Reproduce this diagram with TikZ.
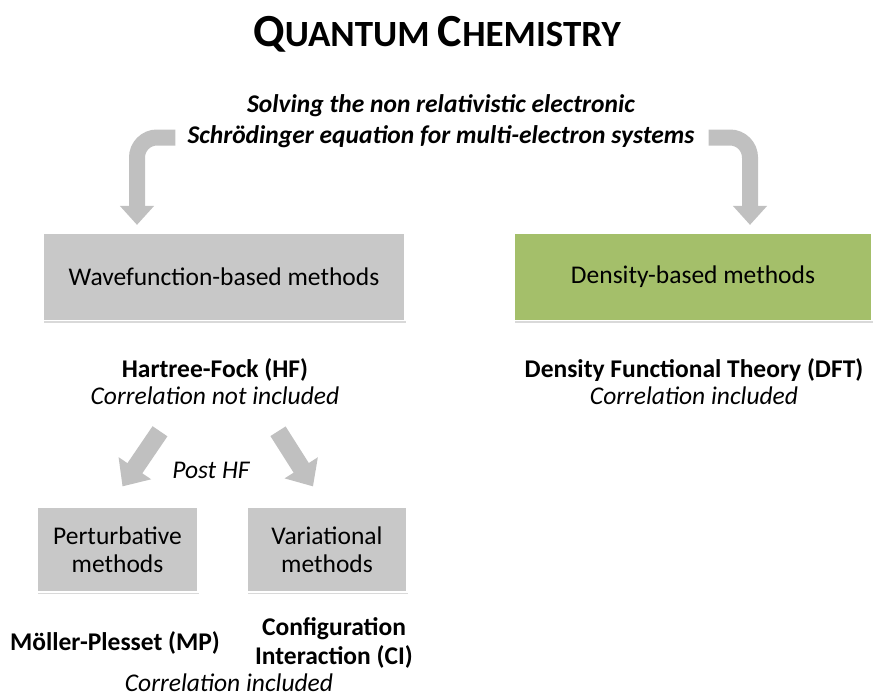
\documentclass[tikz,border=0pt]{standalone}
\usepackage{fontspec}
\setmainfont{Carlito}
\usetikzlibrary{arrows.meta,shadows}

\definecolor{boxgray}{RGB}{200,200,200}
\definecolor{arrowgray}{RGB}{192,192,192}
\definecolor{densgreen}{RGB}{164,191,106}

\begin{document}
\begin{tikzpicture}[x=1pt,y=-1pt,
  methodbox/.style={fill=boxgray,draw=white,line width=1.2pt,inner sep=0pt,align=center,
    font=\fontsize{25.5}{28}\selectfont,
    drop shadow={shadow xshift=1pt,shadow yshift=-2pt,opacity=0.3}},
  label/.style={inner sep=0pt,align=center,font=\fontsize{25.5}{27}\selectfont},
  bendarrow/.style={draw=arrowgray,line width=16pt,rounded corners=20pt,
    -{Triangle[length=19pt,width=33pt]}},
  slantarrow/.style={draw=arrowgray,line width=18pt,
    -{Triangle[length=22pt,width=38pt]}}]
\useasboundingbox (0,0) rectangle (874,698);

% title and question
\node[inner sep=0pt,anchor=base,font=\bfseries] (title) at (437,47)
  {\fontsize{46}{46}\selectfont Q\fontsize{37}{37}\selectfont UANTUM
   \fontsize{46}{46}\selectfont C\fontsize{37}{37}\selectfont HEMISTRY};
\node[label,font=\fontsize{25.5}{31}\selectfont\bfseries\itshape] (sub) at (441,121)
  {Solving the non relativistic electronic\\Schrödinger equation for multi-electron systems};

% the two families
\node[methodbox,minimum width=362pt,minimum height=87pt] (wave) at (224,277) {Wavefunction-based methods};
\node[methodbox,fill=densgreen,minimum width=358pt,minimum height=87pt] (dens) at (693,277) {Density-based methods};

\node[label] (hf) at (215,382) {\textbf{Hartree-Fock (HF)}\\\textit{Correlation not included}};
\node[label] (dft) at (694,382) {\textbf{Density Functional Theory (DFT)}\\\textit{Correlation included}};

\node[label,font=\fontsize{25.5}{28}\selectfont\itshape] (posthf) at (211,470) {Post HF};

% post HF methods
\node[methodbox,minimum width=161pt,minimum height=85pt] (pert) at (117.5,549.5) {Perturbative\\methods};
\node[methodbox,minimum width=160pt,minimum height=85pt] (var) at (327,549.5) {Variational\\methods};

\node[label,font=\fontsize{25.5}{28}\selectfont\bfseries] (mp) at (115,643) {Möller-Plesset (MP)};
\node[label,font=\fontsize{25.5}{29}\selectfont\bfseries] (ci) at (334,643) {Configuration\\Interaction (CI)};
\node[label,font=\fontsize{25.5}{28}\selectfont\itshape,anchor=base] (corr) at (229,691) {Correlation included};

% arrows
\draw[bendarrow] ([shift={(-12,16.5)}]sub.west) -| ([shift={(-87,-8)}]wave.north);
\draw[bendarrow] ([shift={(14,16.5)}]sub.east) -| ([shift={(57,-8)}]dens.north);
\draw[slantarrow] ([shift={(-55,26)}]hf.south) -- ([shift={(5,-20)}]pert.north);
\draw[slantarrow] ([shift={(63,26)}]hf.south) -- ([shift={(-14,-20)}]var.north);
\end{tikzpicture}
\end{document}
